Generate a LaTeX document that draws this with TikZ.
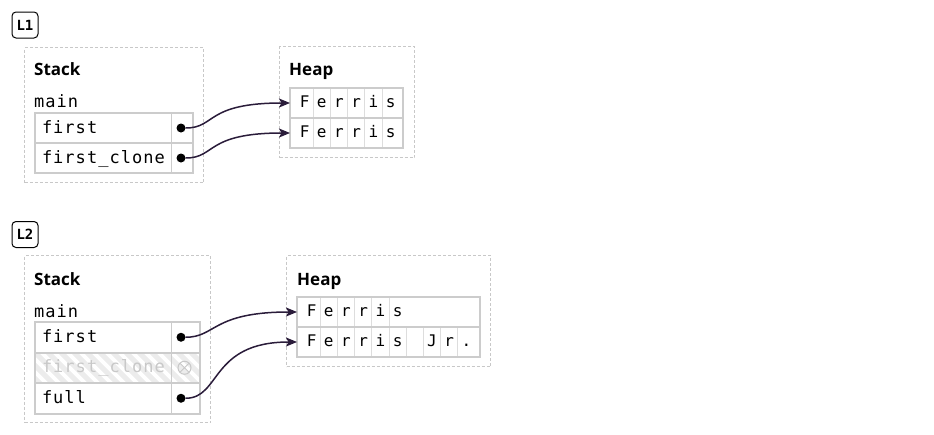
\documentclass[tikz,border=0pt]{standalone}
\usepackage{fontspec}
\setmainfont{Open Sans}
\newfontfamily\codefont{DejaVu Sans Mono}[LetterSpace=6]
\newfontfamily\cellfont{DejaVu Sans Mono}
\usepackage{xcolor}
\definecolor{cellgray}{RGB}{204,204,204}
\definecolor{divgray}{RGB}{221,221,221}
\definecolor{framegray}{RGB}{200,200,200}
\definecolor{ghost}{RGB}{200,200,200}
\definecolor{hatchgray}{RGB}{236,236,236}
\definecolor{ptrcol}{RGB}{42,28,58}
\usepackage{tikz}
\usetikzlibrary{arrows.meta, positioning}

\begin{document}
\begin{tikzpicture}[
    x=1pt, y=-1pt,
    tag/.style={draw=black, line width=1pt, rounded corners=4pt, minimum size=26,
      inner sep=0pt, font=\cellfont\bfseries\fontsize{14}{14}\selectfont},
    frame/.style={draw=framegray, line width=1pt, dash pattern=on 3pt off 2pt,
      anchor=north west, inner sep=0pt, outer sep=0pt},
    title/.style={anchor=base west, inner sep=0pt, font=\bfseries\fontsize{17}{17}\selectfont},
    code/.style={font=\codefont\fontsize{17}{17}\selectfont},
    slot/.style={code, draw=cellgray, line width=2pt, anchor=north west, minimum height=30,
      inner xsep=7pt, inner ysep=0pt, outer sep=0pt, text height=13pt, text depth=3pt, align=left},
    hrow/.style={draw=cellgray, line width=2pt, anchor=north west, minimum height=30,
      inner sep=0pt, outer sep=0pt},
    chr/.style={font=\cellfont\fontsize{16}{16}\selectfont, inner sep=0pt, text height=11pt, text depth=3pt},
    celldiv/.style={draw=divgray, line width=1pt, shorten <=1pt, shorten >=1pt},
    dot/.style={circle, fill=black, minimum size=9, inner sep=0pt},
    gone/.style={circle, draw=ghost, line width=1pt, minimum size=13, inner sep=0pt,
      path picture={
        \draw[ghost, line width=1pt] (path picture bounding box.north west) -- (path picture bounding box.south east)
          (path picture bounding box.north east) -- (path picture bounding box.south west);
      }},
    ptr/.style={draw=ptrcol, line width=1.5pt, -{Stealth[length=11pt, width=9pt, inset=2.5pt]}},
    hatch/.style={draw=hatchgray, line width=5pt}
  ]
  \useasboundingbox (0,0) rectangle (934,434);

  % L1
  \node[tag] (tag1) at (25,25) {L1};
  \node[frame, minimum width=179, minimum height=135] (stack1) at (24.5,47.5) {};
  \node[title] (stack1t) at (34,75) {Stack};
  \node[code, anchor=base west, inner sep=0pt] (main1) at (34,107) {main};
  \node[slot, text width=144] (s1first) at (35,113) {first};
  \node[slot, text width=144, below=0pt of s1first] (s1clone) {first\_clone};
  \draw[cellgray, line width=1pt] ([xshift=-22]s1first.north east) -- ([xshift=-22]s1clone.south east);
  \node[dot] (p1a) at ([xshift=-12]s1first.east) {};
  \node[dot] (p1b) at ([xshift=-12]s1clone.east) {};

  \node[frame, minimum width=135, minimum height=111] (heap1) at (279.5,46.5) {};
  \node[title] (heap1t) at (289,75) {Heap};
  \node[hrow, minimum width=113] (h1a) at (290,88) {};
  \node[hrow, minimum width=113, below=0pt of h1a] (h1b) {};
  \foreach \row in {h1a,h1b} {
    \foreach \ch [count=\i] in {F,e,r,r,i,s}
      \node[chr] (\row-\i) at ([xshift=17.2*\i-2.6]\row.west) {\ch};
    \foreach \i in {1,...,5}
      \draw[celldiv] ([xshift=17.2*\i+6]\row.north west) -- ([xshift=17.2*\i+6]\row.south west);
  }

  \draw[ptr] (p1a) .. controls +(35,0) and +(-85,0) .. (h1a.west);
  \draw[ptr] (p1b) .. controls +(35,0) and +(-85,0) .. (h1b.west);

  % L2
  \node[tag] (tag2) at (25,234.5) {L2};
  \node[frame, minimum width=186, minimum height=167] (stack2) at (24.5,255.5) {};
  \node[title] (stack2t) at (34,285) {Stack};
  \node[code, anchor=base west, inner sep=0pt] (main2) at (34,317) {main};
  \node[slot, text width=151, minimum height=30.5] (s2first) at (35,322) {first};
  \node[slot, text width=151, minimum height=30.5, below=0pt of s2first, text=ghost,
    path picture={
      \foreach \k in {-3,...,14}
        \draw[hatch] ([xshift=13*\k]path picture bounding box.north west) -- +(34,34);
    }] (s2clone) {first\_clone};
  \node[slot, text width=151, minimum height=30.5, below=0pt of s2clone] (s2full) {full};
  \draw[cellgray, line width=1pt] ([xshift=-29]s2first.north east) -- ([xshift=-29]s2full.south east);
  \node[dot] (p2a) at ([xshift=-19]s2first.east) {};
  \node[gone] (p2b) at ([xshift=-15.5]s2clone.east) {};
  \node[dot] (p2c) at ([xshift=-19]s2full.east) {};

  \node[frame, minimum width=204, minimum height=111] (heap2) at (286.5,255.5) {};
  \node[title] (heap2t) at (297,285) {Heap};
  \node[hrow, minimum width=183] (h2a) at (297,297) {};
  \node[hrow, minimum width=183, below=0pt of h2a] (h2b) {};
  \foreach \ch [count=\i] in {F,e,r,r,i,s}
    \node[chr] (h2a-\i) at ([xshift=17.2*\i-2.6]h2a.west) {\ch};
  \foreach \i in {1,...,5}
    \draw[celldiv] ([xshift=17.2*\i+6]h2a.north west) -- ([xshift=17.2*\i+6]h2a.south west);
  \foreach \ch [count=\i] in {F,e,r,r,i,s,{},J,r,.}
    \node[chr] (h2b-\i) at ([xshift=17.2*\i-2.6]h2b.west) {\ch};
  \foreach \i in {1,...,9}
    \draw[celldiv] ([xshift=17.2*\i+6]h2b.north west) -- ([xshift=17.2*\i+6]h2b.south west);

  \draw[ptr] (p2a) .. controls +(35,0) and +(-85,0) .. (h2a.west);
  \draw[ptr] (p2c) .. controls +(40,0) and +(-87,0) .. (h2b.west);
\end{tikzpicture}
\end{document}
